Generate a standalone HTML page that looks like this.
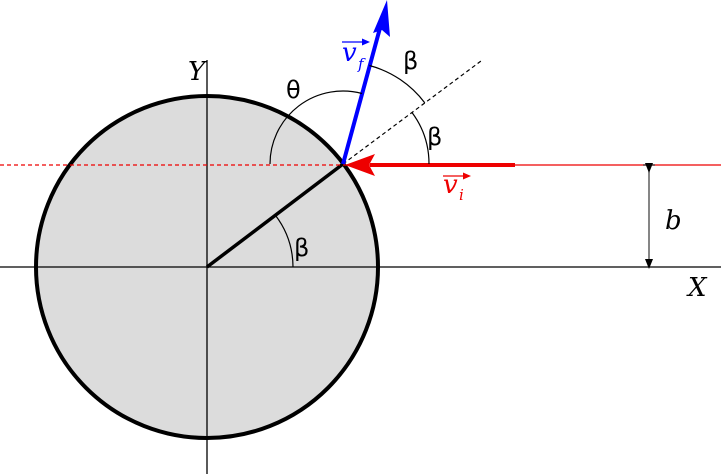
<!DOCTYPE html>
<html><head><style>html,body{margin:0;padding:0;background:#fff;}svg{display:block;}</style></head>
<body>
<svg width="721" height="474" viewBox="0 0 721 474" xmlns="http://www.w3.org/2000/svg">
<defs>
<marker id="ab" markerWidth="10" markerHeight="10" refX="5" refY="5" orient="auto" markerUnits="userSpaceOnUse"><path d="M0,1 L10,5 L0,9 Z" fill="#000"/></marker>
</defs>
<circle cx="207" cy="267" r="171" fill="#dcdcdc" stroke="#000" stroke-width="4"/>
<line x1="0" y1="267" x2="721" y2="267" stroke="#000" stroke-width="1.3"/>
<line x1="207" y1="60" x2="207" y2="474" stroke="#000" stroke-width="1.3"/>
<line x1="207" y1="267" x2="343" y2="164" stroke="#000" stroke-width="3.5"/>
<line x1="0" y1="165" x2="343" y2="165" stroke="#e00" stroke-width="1.3" stroke-dasharray="4,3"/>
<line x1="343" y1="165" x2="721" y2="165" stroke="#e00" stroke-width="1.3"/>
<line x1="370" y1="165" x2="515" y2="165" stroke="#e00" stroke-width="4"/>
<path d="M345,165 L375,154 L369,165 L375,176 Z" fill="#e00"/>
<line x1="343" y1="164" x2="481" y2="61" stroke="#000" stroke-width="1.2" stroke-dasharray="4,3"/>
<line x1="343" y1="164" x2="380" y2="28" stroke="#00f" stroke-width="4"/>
<path d="M387,0 L390,37 L382,30 L373,33 Z" fill="#00f"/>
<path d="M270,164 A73,73 0 0 1 362,93.5" fill="none" stroke="#000" stroke-width="1.2"/>
<path d="M369.4,65.5 A102,102 0 0 1 424.8,102.9" fill="none" stroke="#000" stroke-width="1.2"/>
<path d="M412,112.5 A86,86 0 0 1 429,164" fill="none" stroke="#000" stroke-width="1.2"/>
<path d="M293,267 A86,86 0 0 0 275.4,215.2" fill="none" stroke="#000" stroke-width="1.2"/>
<line x1="649" y1="168" x2="649" y2="264" stroke="#444" stroke-width="1.3" marker-start="url(#ab)" marker-end="url(#ab)"/>
<line x1="643" y1="165" x2="655" y2="165" stroke="#000" stroke-width="1"/>
<line x1="643" y1="267" x2="655" y2="267" stroke="#000" stroke-width="1"/>
<g font-family="DejaVu Serif, Liberation Serif, serif" font-size="26">
<text x="188" y="80" font-style="italic">Y</text>
<text x="688" y="296" font-style="italic">X</text>
<text x="665" y="229" font-style="italic">b</text>
<text x="403" y="69" font-family="DejaVu Sans, sans-serif" font-size="24">β</text>
<text x="427" y="145" font-family="DejaVu Sans, sans-serif" font-size="24">β</text>
<text x="294" y="256" font-family="DejaVu Sans, sans-serif" font-size="24">β</text>
<text x="286" y="98" font-family="DejaVu Sans, sans-serif" font-size="24">θ</text>
<text x="342" y="61" font-style="italic" fill="#00f">v</text>
<text x="358" y="69" font-style="italic" fill="#00f" font-size="15">f</text>
<text x="443" y="193" font-style="italic" fill="#e00">v</text>
<text x="459" y="200" font-style="italic" fill="#e00" font-size="15">i</text>
</g>
<line x1="342" y1="42" x2="366" y2="42" stroke="#00f" stroke-width="1.2"/>
<path d="M370,42 L362,38.5 L362,45.5 Z" fill="#00f"/>
<line x1="443" y1="176" x2="467" y2="176" stroke="#e00" stroke-width="1.2"/>
<path d="M471,176 L463,172.5 L463,179.5 Z" fill="#e00"/>
</svg>
</body></html>
